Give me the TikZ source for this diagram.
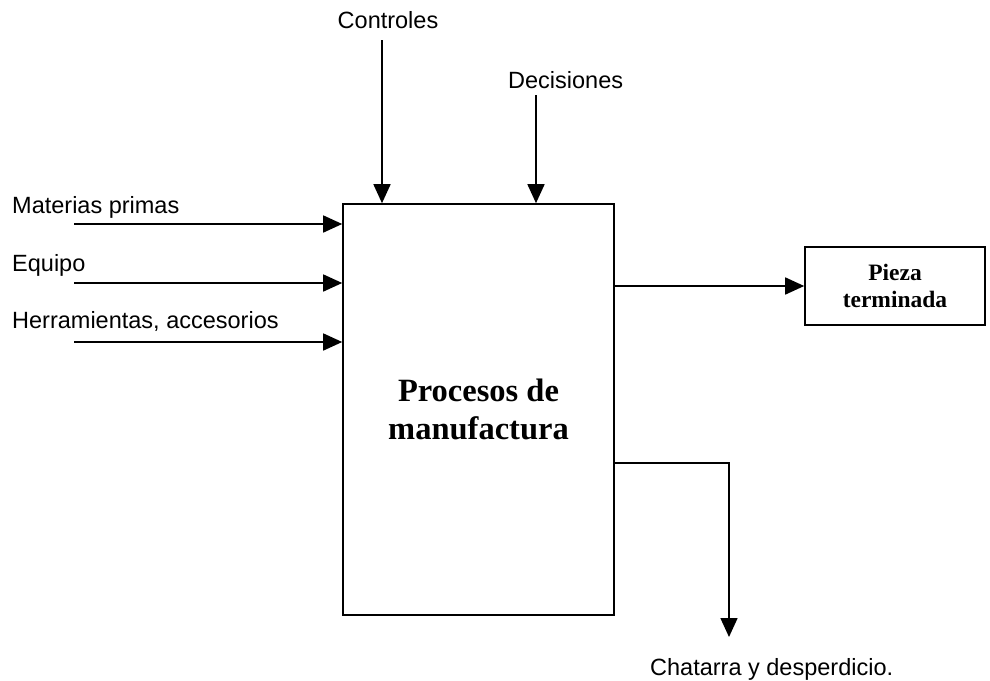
\documentclass[tikz,border=0pt]{standalone}
\usepackage{fontspec}
\setmainfont{Liberation Serif}
\setsansfont{Liberation Sans}
\usetikzlibrary{arrows.meta}
\begin{document}
\begin{tikzpicture}[x=1pt,y=-1pt,
  line/.style={line width=1.6pt},
  arr/.style={line, -{Triangle[length=19pt,width=17pt]}},
  block/.style={draw, line width=1.6pt, align=center, inner sep=0pt},
  lbl/.style={font=\sffamily\fontsize{23.5}{27}\selectfont, inner sep=0pt}
]
\useasboundingbox (0,0) rectangle (990,680);

% central process block
\node[block, minimum width=271pt, minimum height=411pt,
      font=\bfseries\fontsize{32.5}{38}\selectfont] (proc) at (478.5,409.5)
      {Procesos de\\manufactura};

% finished-part block
\node[block, minimum width=180pt, minimum height=78pt,
      font=\bfseries\fontsize{23.5}{27}\selectfont]
      (part) at (895,286) {Pieza\\terminada};

% labels
\node[lbl, anchor=base] (ctl) at (388,28) {Controles};
\node[lbl, anchor=base west] (dec) at (508,88) {Decisiones};
\node[lbl, anchor=base west] (mat) at (12,213) {Materias primas};
\node[lbl, anchor=base west] (eq) at (12,271) {Equipo};
\node[lbl, anchor=base west] (herr) at (12,328) {Herramientas, accesorios};
\node[lbl, anchor=base west] (scrap) at (650,675) {Chatarra y desperdicio.};

% free ends of the connectors
\coordinate (ctlTop) at (382,40);
\coordinate (decTop) at (536,95);
\coordinate (matIn) at (74,224);
\coordinate (eqIn) at (74,283);
\coordinate (herrIn) at (74,342);
\coordinate (scrapOut) at (614,463);
\coordinate (scrapTurn) at (729,463);
\coordinate (scrapEnd) at (729,637);

% control inputs from above
\draw[arr] (ctlTop) -- (ctlTop |- proc.north);
\draw[arr] (decTop) -- (decTop |- proc.north);

% resource inputs from the left
\draw[arr] (matIn) -- (matIn -| proc.west);
\draw[arr] (eqIn) -- (eqIn -| proc.west);
\draw[arr] (herrIn) -- (herrIn -| proc.west);

% outputs
\draw[arr] (proc.east |- part.west) -- (part.west);
\draw[arr] (scrapOut -| proc.east) -- (scrapTurn) -- (scrapEnd);
\end{tikzpicture}
\end{document}
